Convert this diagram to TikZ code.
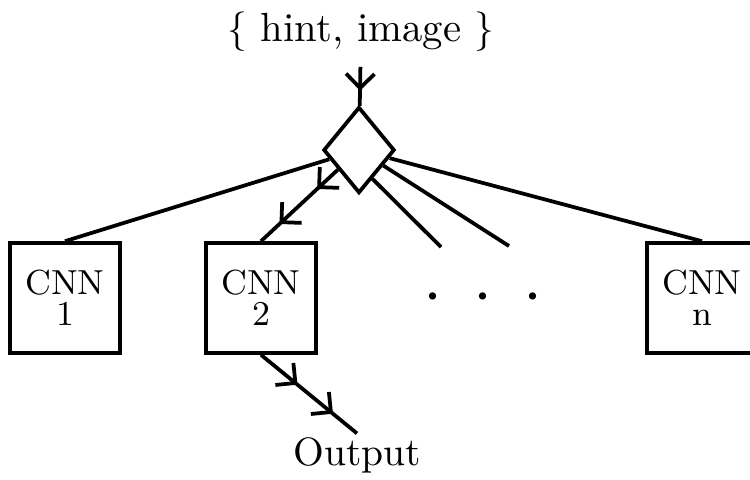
\documentclass[tikz,border=0pt]{standalone}
\usetikzlibrary{arrows.meta, calc, shapes.geometric, decorations.markings}

\tikzset{
  net/.style={draw, minimum size=27.8pt, inner sep=1pt, align=center, font=\fontsize{8.8}{7.8}\selectfont},
  gate/.style={draw, diamond, minimum width=18pt, minimum height=21.8pt, inner sep=0pt},
  barb/.style={postaction={decorate}, decoration={markings, mark=at position #1 with {\arrow{Straight Barb[length=3.6pt, width=7.2pt]}}}},
  barbs/.style 2 args={postaction={decorate}, decoration={markings,
      mark=at position #1 with {\arrow{Straight Barb[length=3.6pt, width=7.2pt]}},
      mark=at position #2 with {\arrow{Straight Barb[length=3.6pt, width=7.2pt]}}}}
}

\begin{document}
\begin{tikzpicture}[x=0.253pt, y=-0.253pt, line width=0.95pt]
                  \useasboundingbox (0, 0) rectangle (750, 479);

                  \node[font=\fontsize{10.3}{12}\selectfont] (in) at (361, 32) {$\{$ hint, image $\}$};
                  \node[gate] (d) at (359, 150) {};

                  \node[net] (cnn1) at (65, 298) {CNN\\1};
                  \node[net] (cnn2) at (261, 298) {CNN\\2};
                  \node[net] (cnnn) at (702, 298) {CNN\\n};
                  \node (dots) at (483, 298) {\LARGE$\cdot$\hspace{7.9pt}$\cdot$\hspace{7.9pt}$\cdot$};
                  \node[inner sep=0.5pt] (out) at (357, 455) {Output};

                  \coordinate (e1) at (441, 247);
                  \coordinate (e2) at (509, 246);

                  \draw[barb=0.61] (in) -- (d);
                  \draw (d) -- (cnn1.north);
                  \draw[barbs={0.27}{0.76}] (d) -- (cnn2.north);
                  \draw (d.-65) -- (e1);
                  \draw (d) -- (e2);
                  \draw (d) -- (cnnn.north);
                  \draw[barbs={0.38}{0.75}] (cnn2.south) -- (out.north);
              \end{tikzpicture}
\end{document}
